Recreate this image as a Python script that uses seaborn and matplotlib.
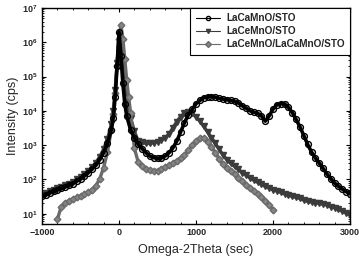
import numpy as np
import pandas as pd
import matplotlib
matplotlib.use("Agg")
import matplotlib.pyplot as plt
import matplotlib.ticker as mticker
import seaborn as sns

# ---- data (omega-2theta in sec, intensity in cps) ----
x_lca = [-1000, -950, -900, -850, -800, -750, -700, -650, -600, -550, -500, -450,
         -400, -350, -300, -250, -200, -150, -100, -75, -50, -25, 0, 25, 50, 75,
         100, 150, 200, 250, 300, 350, 400, 450, 500, 550, 600, 650, 700, 750,
         800, 850, 900, 950, 1000, 1050, 1100, 1150, 1200, 1250, 1300, 1350, 1400,
         1450, 1500, 1550, 1600, 1650, 1700, 1750, 1800, 1850, 1900, 1950, 2000,
         2050, 2100, 2150, 2200, 2250, 2300, 2350, 2400, 2450, 2500, 2550, 2600,
         2650, 2700, 2750, 2800, 2850, 2900, 2950, 3000]
i_lca = [32, 35, 40, 45, 49, 55, 60, 68, 76, 89, 105, 126,
         158, 200, 263, 380, 600, 1120, 2800, 6300, 25000, 2.0e5, 2.0e6, 4.0e5, 63000, 16000,
         7100, 2800, 1600, 1050, 790, 600, 480, 430, 410, 420, 480, 600, 830, 1300,
         2400, 4500, 7600, 11000, 16000, 20000, 24000, 26000, 26000, 25000, 23000, 22000, 21000,
         20000, 19000, 17000, 14000, 12000, 10000, 9100, 8500, 7100, 5000, 7100, 11200,
         15000, 16000, 16000, 12600, 8900, 5600, 3400, 1900, 1050, 630, 420, 300,
         210, 145, 105, 79, 63, 52, 44, 38]

x_lce = x_lca
i_lce = [35, 40, 45, 50, 55, 62, 68, 76, 85, 100, 117, 141,
         178, 229, 309, 457, 759, 1480, 4000, 10000, 40000, 2.5e5, 1.6e6, 6.3e5, 1.6e5, 50000,
         20000, 6300, 2500, 1300, 1200, 1120, 1120, 1170, 1260, 1400, 1660, 2100, 3200, 4800,
         6800, 8500, 9500, 8500, 6600, 5000, 3500, 2400, 1660, 1120, 760, 520, 380,
         295, 240, 195, 158, 132, 112, 95, 83, 72, 63, 56, 50,
         46, 42, 38, 35, 32, 30, 28, 25, 23, 22, 21, 20,
         19, 18, 16, 15, 13.5, 12, 10.5, 9]

x_bil = [-800, -750, -700, -650, -600, -550, -500, -450, -400, -350, -300, -250,
         -200, -150, -100, -75, -50, -25, 0, 25, 50, 75, 100, 125, 150, 200, 250,
         300, 350, 400, 450, 500, 550, 600, 650, 700, 750, 800, 850, 900, 950,
         1000, 1050, 1100, 1150, 1200, 1250, 1300, 1350, 1400, 1450, 1500, 1550,
         1600, 1650, 1700, 1750, 1800, 1850, 1900, 1950, 2000]
i_bil = [7, 16, 20, 24, 27, 30, 33, 37, 43, 50, 66, 105,
         220, 630, 2750, 7900, 32000, 2.0e5, 1.26e6, 3.2e6, 1.26e6, 3.2e5, 79000, 25000, 8900, 800, 316,
         240, 200, 186, 178, 182, 200, 229, 263, 302, 355, 417, 525, 708, 1000,
         1320, 1580, 1580, 1260, 890, 600, 400, 280, 214, 174, 141, 112,
         89, 71, 58, 47, 38, 30, 24, 18, 13]

labels = ["LaCaMnO/STO", "LaCeMnO/STO", "LaCeMnO/LaCaMnO/STO"]

df = pd.concat([
    pd.DataFrame({"x": x_lca, "y": i_lca, "sample": labels[0]}),
    pd.DataFrame({"x": x_lce, "y": i_lce, "sample": labels[1]}),
    pd.DataFrame({"x": x_bil, "y": i_bil, "sample": labels[2]}),
])

sns.set_theme(style="ticks")
plt.rcParams['font.family'] = ['Liberation Sans', 'DejaVu Sans']
plt.rcParams['mathtext.fontset'] = 'custom'
plt.rcParams['mathtext.rm'] = 'Liberation Sans:bold'
plt.rcParams['mathtext.it'] = 'Liberation Sans:bold'
plt.rcParams['mathtext.bf'] = 'Liberation Sans:bold'

fig = plt.figure(figsize=(3.59, 2.63), dpi=100)
ax = fig.add_axes([0.117, 0.148, 0.858, 0.822])

styles = {
    labels[0]: dict(color="black", marker="o", mfc="none", mec="black", zorder=4, ms=4.2, lw=2.6),
    labels[1]: dict(color="#3c3c3c", marker="v", mfc="#3c3c3c", mec="#3c3c3c", zorder=2, ms=4.0, lw=2.4),
    labels[2]: dict(color="#6a6a6a", marker="D", mfc="#858585", mec="#6a6a6a", zorder=3, ms=3.4, lw=2.4),
}
for lab in labels:
    st = styles[lab]
    sns.lineplot(data=df[df["sample"] == lab], x="x", y="y", ax=ax, sort=False,
                 label=lab, color=st["color"], marker=st["marker"], markersize=st["ms"],
                 markerfacecolor=st["mfc"], markeredgecolor=st["mec"], markeredgewidth=1.0,
                 linewidth=st["lw"], zorder=st["zorder"])

ax.set_yscale("log")
ax.set_xlim(-1000, 3000)
ax.set_ylim(5, 1e7)
ax.set_xticks([-1000, 0, 1000, 2000, 3000])
ax.xaxis.set_minor_locator(mticker.MultipleLocator(200))
ax.set_yticks([1e1, 1e2, 1e3, 1e4, 1e5, 1e6, 1e7])
ax.yaxis.set_major_formatter(mticker.LogFormatterMathtext())
ax.yaxis.set_minor_locator(mticker.LogLocator(base=10, subs=np.arange(2, 10)))
ax.yaxis.set_minor_formatter(mticker.NullFormatter())

ax.tick_params(which="both", direction="in", top=True, right=True, color="black")
ax.tick_params(which="major", length=3, width=0.8, labelsize=6.5, pad=3)
ax.tick_params(which="minor", length=1.6, width=0.6)
for t in ax.get_xticklabels() + ax.get_yticklabels():
    t.set_fontweight("bold")
for sp in ax.spines.values():
    sp.set_linewidth(1.0)
    sp.set_color("black")

ax.set_xlabel("Omega-2Theta (sec)", fontsize=9, labelpad=5)
ax.set_ylabel("Intensity (cps)", fontsize=9, labelpad=2)

leg = ax.legend(loc="upper right", frameon=True, fancybox=False, borderaxespad=0,
                prop={"size": 7.2, "weight": "bold"}, handlelength=2.4,
                borderpad=0.55, labelspacing=0.3, handletextpad=0.6, framealpha=1)
leg.get_frame().set_edgecolor("black")
leg.get_frame().set_linewidth(0.8)
leg.set_zorder(10)
for h in leg.get_lines():
    h.set_linewidth(0.8)
    h.set_markersize(3)

fig.savefig("out.png", dpi=100)
